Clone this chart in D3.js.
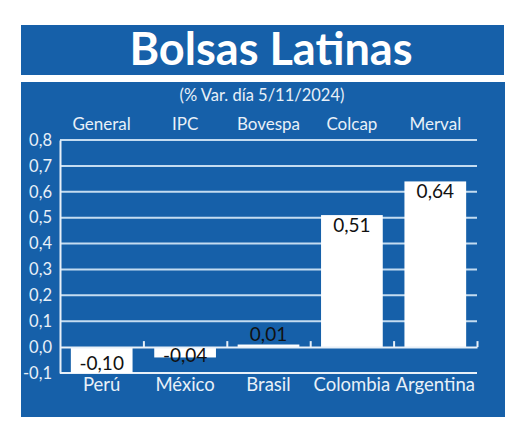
<!DOCTYPE html>
<html>
<head>
<meta charset="utf-8">
<script src="https://cdn.jsdelivr.net/npm/d3@7"></script>
<style>
	body { margin: 0; background: #fff; }
	svg text { font-family: Lato, 'Open Sans', sans-serif; }
</style>
</head>
<body>
<div id="vis"></div>
<script>
// DATA
let countries = ['Perú', 'México', 'Brasil', 'Colombia', 'Argentina'];
let indices = ['General', 'IPC', 'Bovespa', 'Colcap', 'Merval'];
let values = [-0.10, -0.04, 0.01, 0.51, 0.64];
let yTicks = [-0.1, 0.0, 0.1, 0.2, 0.3, 0.4, 0.5, 0.6, 0.7, 0.8];

// PARAMETERS
let width = 520,
	height = 435,
	blue = '#1660a9',
	grid = '#c4dcf1',
	light = '#e8f0f8',
	plot = { left: 60, right: 477, top: 140, bottom: 373 };

let fmt = v => d3.format('.2f')(v).replace('.', ',').replace('−', '-');

// SCALES
let x = d3
		.scaleBand()
		.domain(countries)
		.range([plot.left, plot.right])
		.paddingInner(0.26)
		.paddingOuter(0.13),
	xBand = d3
		.scaleBand()
		.domain(countries)
		.range([plot.left, plot.right]),
	y = d3
		.scaleLinear()
		.domain([-0.1, 0.8])
		.range([plot.bottom, plot.top]);

// SVG
let svg = d3
	.select('#vis')
	.append('svg')
	.attr('width', width)
	.attr('height', height);

// BOXES
svg.append('rect').attr('x', 21).attr('y', 25).attr('width', 483).attr('height', 50).attr('fill', blue);
svg.append('rect').attr('x', 21).attr('y', 82).attr('width', 484).attr('height', 335).attr('fill', blue);

// TITLE
svg
	.append('text')
	.attr('x', 271)
	.attr('y', 65)
	.attr('text-anchor', 'middle')
	.attr('fill', '#fff')
	.attr('font-size', 45)
	.attr('font-weight', 'bold')
	.attr('textLength', 283)
	.attr('lengthAdjust', 'spacingAndGlyphs')
	.text('Bolsas Latinas');

// SUBTITLE
svg
	.append('text')
	.attr('x', 262)
	.attr('y', 101)
	.attr('text-anchor', 'middle')
	.attr('fill', light)
	.attr('font-size', 16.5)
	.text('(% Var. día 5/11/2024)');

// GRID
svg
	.append('g')
	.selectAll('line')
	.data(yTicks.filter(t => t > 0))
	.enter()
	.append('line')
	.attr('x1', plot.left)
	.attr('x2', plot.right)
	.attr('y1', d => y(d))
	.attr('y2', d => y(d))
	.attr('stroke', grid)
	.attr('stroke-width', 2);

// Y AXIS
let yAxis = d3
	.axisLeft(y)
	.tickValues(yTicks)
	.tickSize(0)
	.tickPadding(8)
	.tickFormat(d => d3.format('.1f')(d).replace('.', ',').replace('−', '-'));

svg
	.append('g')
	.attr('transform', `translate(${plot.left}, 0)`)
	.call(yAxis)
	.call(g => g.select('.domain').attr('stroke', light).attr('stroke-width', 2))
	.call(g => g.selectAll('text').attr('fill', light).attr('font-size', 16.5).attr('font-family', 'Lato, sans-serif'));

// BOTTOM LINE
svg
	.append('line')
	.attr('x1', plot.left)
	.attr('x2', plot.right)
	.attr('y1', y(-0.1))
	.attr('y2', y(-0.1))
	.attr('stroke', light)
	.attr('stroke-width', 2);

// BARS
svg
	.append('g')
	.selectAll('rect')
	.data(values)
	.enter()
	.append('rect')
	.attr('x', (d, i) => x(countries[i]))
	.attr('y', d => y(Math.max(0, d)))
	.attr('width', x.bandwidth())
	.attr('height', d => Math.abs(y(d) - y(0)))
	.attr('fill', '#fff');

// ZERO AXIS with ticks at band edges
let zeroAxis = d3
	.axisTop(d3.scaleLinear().domain([0, countries.length]).range([plot.left, plot.right]))
	.tickValues(d3.range(1, countries.length + 1))
	.tickSize(6)
	.tickSizeOuter(0)
	.tickFormat('');

svg
	.append('g')
	.attr('transform', `translate(0, ${y(0)})`)
	.call(zeroAxis)
	.call(g => g.select('.domain').attr('stroke', light).attr('stroke-width', 2))
	.call(g => g.selectAll('.tick line').attr('stroke', light).attr('stroke-width', 2));

// VALUE LABELS
svg
	.append('g')
	.selectAll('text')
	.data(values)
	.enter()
	.append('text')
	.attr('x', (d, i) => x(countries[i]) + x.bandwidth() / 2)
	.attr('y', d => {
		if (d < 0) return Math.max(y(d) - 3, y(0) + 15);
		return y(0) - y(d) > 30 ? y(d) + 17 : y(d) - 4;
	})
	.attr('text-anchor', 'middle')
	.attr('fill', '#111')
	.attr('font-size', 19)
	.text(d => fmt(d));

// TOP LABELS
svg
	.append('g')
	.selectAll('text')
	.data(indices)
	.enter()
	.append('text')
	.attr('x', (d, i) => xBand(countries[i]) + xBand.bandwidth() / 2)
	.attr('y', 130)
	.attr('text-anchor', 'middle')
	.attr('fill', light)
	.attr('font-size', 17)
	.text(d => d);

// BOTTOM LABELS
svg
	.append('g')
	.selectAll('text')
	.data(countries)
	.enter()
	.append('text')
	.attr('x', d => xBand(d) + xBand.bandwidth() / 2)
	.attr('y', 391)
	.attr('text-anchor', 'middle')
	.attr('fill', light)
	.attr('font-size', 18.5)
	.text(d => d);
</script>
</body>
</html>
